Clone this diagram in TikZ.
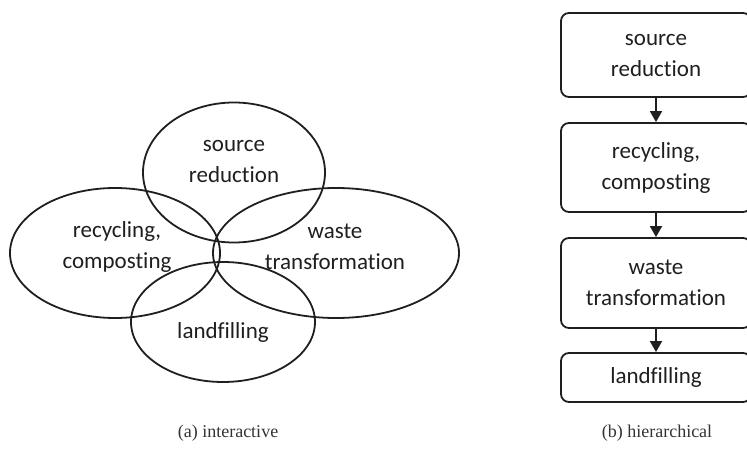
\documentclass[tikz,border=0pt]{standalone}
\usepackage{fontspec}
\setmainfont{Carlito}[Ligatures={NoCommon}]
\newfontfamily\capfont{Liberation Serif}
\usetikzlibrary{arrows.meta}

\begin{document}
\begin{tikzpicture}[x=1pt,y=-1pt,
  ring/.style={draw=black!88, line width=1.8pt},
  lbl/.style={align=center, text=black!88, font=\fontsize{23}{31}\selectfont},
  stage/.style={draw=black!88, line width=1.8pt, rounded corners=8pt,
    minimum width=190pt, align=center, text=black!88,
    font=\fontsize{23}{31}\selectfont},
  flow/.style={draw=black!88, line width=1.8pt, -{Triangle[length=11pt,width=12pt]}},
  subcap/.style={text=black!80, font=\capfont\fontsize{18}{20}\selectfont}]
\useasboundingbox (0,0) rectangle (747,457);

% (a) interactive
\draw[ring] (234,172.5) ellipse [x radius=91, y radius=70];
\draw[ring] (115,253) ellipse [x radius=105, y radius=65];
\draw[ring] (336,253) ellipse [x radius=123, y radius=65];
\draw[ring] (223,322) ellipse [x radius=92, y radius=60];

\node[lbl] (src) at (234,161) {source\\reduction};
\node[lbl] (rec) at (117,247) {recycling,\\composting};
\node[lbl] (wst) at (335,247) {waste\\transformation};
\node[lbl] (lnd) at (223,332) {landfilling};

\node[subcap] (capa) at (228,433) {(a) interactive};

% (b) hierarchical
\node[stage, minimum height=84pt] (s1) at (656,55) {source\\reduction};
\node[stage, minimum height=89pt] (s2) at (656,167.5) {recycling,\\composting};
\node[stage, minimum height=90pt] (s3) at (656,283) {waste\\transformation};
\node[stage, minimum height=49pt] (s4) at (656,377.5) {landfilling};

\path[flow] (s1) -- (s2);
\path[flow] (s2) -- (s3);
\path[flow] (s3) -- (s4);

\node[subcap] (capb) at (657,433) {(b) hierarchical};
\end{tikzpicture}
\end{document}
